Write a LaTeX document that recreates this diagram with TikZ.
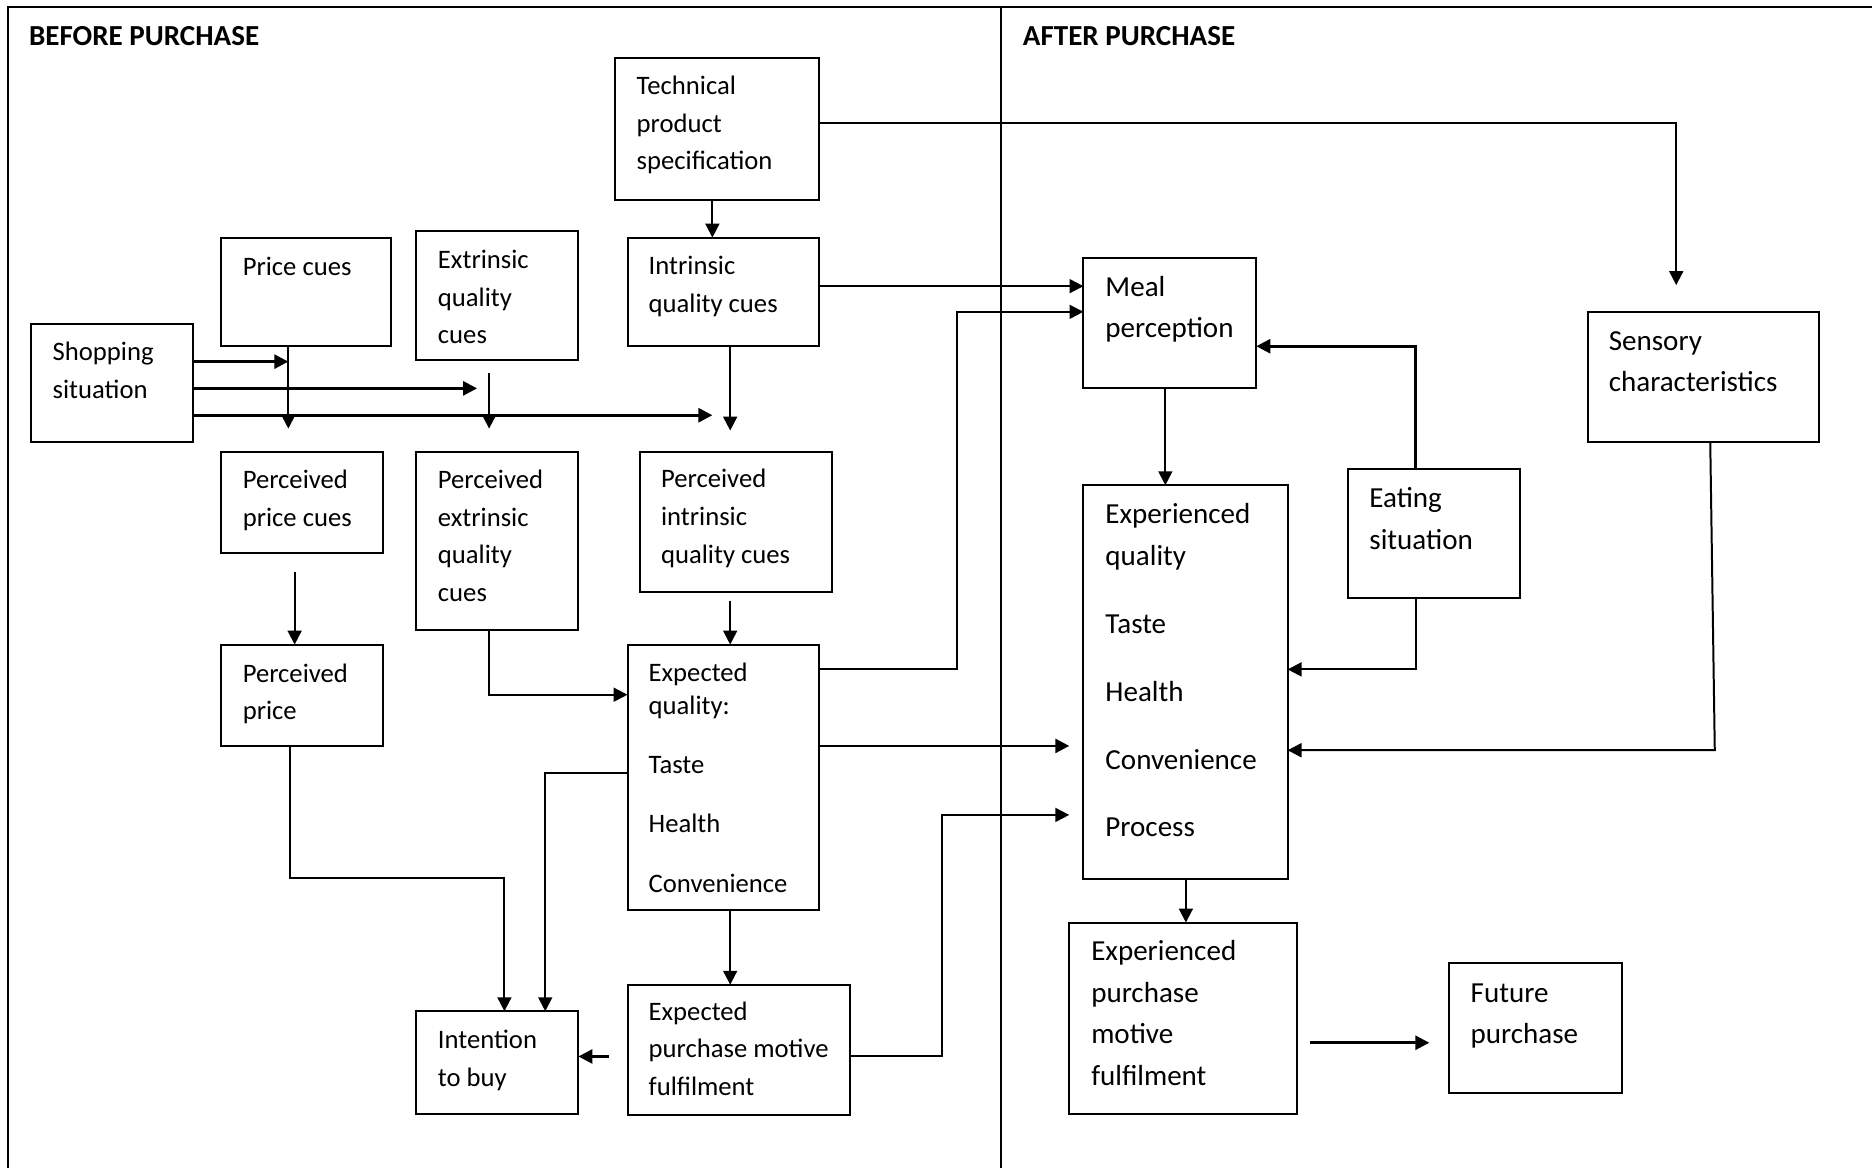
\documentclass[tikz,border=0pt]{standalone}
\usepackage{fontspec}
\setmainfont{Carlito}
\usetikzlibrary{arrows.meta,calc}
\newcommand\mybox[5]{\node[box, minimum width={(#4-#2)*0.6pt}, minimum height={(#5-#3)*0.6pt}] (#1) at (#2,#3) {};}
\tikzset{
  box/.style={draw, line width=1pt, inner sep=0pt, outer sep=0pt, anchor=north west},
  ltxt/.style={anchor=base west, inner sep=0pt, align=left, font=\fontsize{13.4}{19}\selectfont},
  rtxt/.style={anchor=base west, inner sep=0pt, align=left, font=\fontsize{14.6}{20.9}\selectfont},
  head/.style={anchor=base west, inner sep=0pt, font=\fontsize{14.6}{17}\selectfont\bfseries},
  arr/.style={line width=1pt, -{Triangle[length=7pt,width=7pt]}},
  tarr/.style={line width=1.4pt, -{Triangle[length=7pt,width=7pt]}},
  frame/.style={line width=1pt}
}
\begin{document}
\begin{tikzpicture}[x=0.6pt,y=-0.6pt]
\useasboundingbox (0,0) rectangle (1568,978);
% frame
\draw[frame] (6.4,978) -- (6.4,5.5) -- (1568,5.5);
\draw[frame] (838.6,5.5) -- (838.6,978);
\node[head] (hb) at (24,37.8) {BEFORE PURCHASE};
\node[head] (ha) at (856.5,37.8) {AFTER PURCHASE};
% boxes left (text nodes placed at the baseline of their last line)
\mybox{tech}{515.5}{48.7}{686.4}{167.6}
\node[ltxt] (tech-t) at (533,142.3) {Technical\\product\\specification};
\mybox{price}{185.4}{199}{327.5}{290}
\node[ltxt] (price-t) at (203,231) {Price cues};
\mybox{extr}{348.8}{193.9}{484.5}{301.3}
\node[ltxt] (extr-t) at (366.5,288) {Extrinsic\\quality\\cues};
\mybox{intr}{525.6}{199}{686.4}{290}
\node[ltxt] (intr-t) at (543,262) {Intrinsic\\quality cues};
\mybox{shop}{26.2}{271}{161.9}{370}
\node[ltxt] (shop-t) at (43.8,334) {Shopping\\situation};
\mybox{pprice}{185.4}{378.5}{320.5}{463}
\node[ltxt] (pprice-t) at (203,441) {Perceived\\price cues};
\mybox{pextr}{348.8}{378.5}{484.5}{527.7}
\node[ltxt] (pextr-t) at (366.5,504) {Perceived\\extrinsic\\quality\\cues};
\mybox{pintr}{535.8}{378.5}{696.6}{495.8}
\node[ltxt] (pintr-t) at (553.4,472) {Perceived\\intrinsic\\quality cues};
\mybox{pp}{185.4}{539.9}{320.5}{624.8}
\node[ltxt] (pp-t) at (203,603) {Perceived\\price};
\mybox{expq}{525.6}{539.9}{686.4}{762.1}
\node[ltxt, font=\fontsize{13.4}{16.9}\selectfont] (expq-t) at (543,747.7) {Expected\\quality:\\[12.4pt]Taste\\[12.9pt]Health\\[13.4pt]Convenience};
\mybox{intent}{348.8}{847}{484.5}{932.8}
\node[ltxt] (intent-t) at (366.5,910.1) {Intention\\to buy};
\mybox{epmf}{525.6}{824.8}{712}{933.8}
\node[ltxt] (epmf-t) at (543,917.7) {Expected\\purchase motive\\fulfilment};
% boxes right
\mybox{meal}{907.5}{215.7}{1052.3}{325.3}
\node[rtxt] (meal-t) at (925.6,283) {Meal\\perception};
\mybox{sens}{1330.1}{261.2}{1523.5}{370.2}
\node[rtxt] (sens-t) at (1347.2,328) {Sensory\\characteristics};
\mybox{eat}{1129}{392.6}{1273.4}{501.3}
\node[rtxt] (eat-t) at (1146.7,460) {Eating\\situation};
\mybox{exq}{907.5}{406.4}{1078.5}{736.4}
\node[rtxt] (exq-t) at (925.6,701) {Experienced\\quality\\[13.2pt]Taste\\[13.2pt]Health\\[13.2pt]Convenience\\[13.2pt]Process};
\mybox{epf}{895.6}{772.7}{1086.2}{932.8}
\node[rtxt] (epf-t) at (913.7,909) {Experienced\\purchase\\motive\\fulfilment};
\mybox{fut}{1213.4}{806.4}{1358.2}{915.6}
\node[rtxt] (fut-t) at (1231.5,874.3) {Future\\purchase};
% free-end coordinates
\coordinate (c-sens) at (1404,238.8);
\coordinate (c-s1) at (241.5,302.9);
\coordinate (c-s2) at (399.6,325.3);
\coordinate (c-s3) at (596.7,347.8);
\coordinate (c-pr) at (241.5,359);
\coordinate (c-ex0) at (409.7,312.5);
\coordinate (c-ex1) at (409.7,359);
\coordinate (c-in) at (611.6,360.6);
\coordinate (c-pp0) at (246.8,478.9);
\coordinate (c-pi0) at (611.6,503);
\coordinate (c-eq) at (895.6,624.8);
\coordinate (c-ep0) at (510,884.9);
\coordinate (c-pr2) at (895.6,682.6);
\coordinate (c-f0) at (1097.1,873.4);
\coordinate (c-f1) at (1197.2,873.4);
% connectors
\draw[arr] (tech.south -| 596.7,0) -- (intr.north -| 596.7,0);
\draw[arr] (tech.east |- 0,103.2) -- (1404,103.2) -- (c-sens);
\draw[arr] (intr.east |- 0,239.7) -- (meal.west |- 0,239.7);
\draw[arr] (expq.east |- 0,560.7) -- (801.3,560.7) -- (801.3,261.2) -- (meal.west |- 0,261.2);
\draw[tarr] (shop.east |- c-s1) -- (c-s1);
\draw[tarr] (shop.east |- c-s2) -- (c-s2);
\draw[tarr] (shop.east |- c-s3) -- (c-s3);
\draw[arr] (price.south -| c-pr) -- (c-pr);
\draw[arr] (c-ex0) -- (c-ex1);
\draw[arr] (intr.south -| c-in) -- (c-in);
\draw[arr] (c-pp0) -- (pp.north -| c-pp0);
\draw[arr] (c-pi0) -- (expq.north -| c-pi0);
\draw[arr] (pextr.south -| 409.7,0) -- (409.7,581.9) -- (expq.west |- 0,581.9);
\draw[tarr] (expq.east |- c-eq) -- (c-eq);
\draw[arr] (expq.west |- 0,647.6) -- (456.7,647.6) -- (intent.north -| 456.7,0);
\draw[arr] (pp.south -| 243,0) -- (243,735.7) -- (422.5,735.7) -- (intent.north -| 422.5,0);
\draw[arr] (expq.south -| 611.6,0) -- (epmf.north -| 611.6,0);
\draw[tarr] (c-ep0) -- (intent.east |- c-ep0);
\draw[arr] (epmf.east |- c-ep0) -- (789,884.9) -- (789,682.6) -- (c-pr2);
\draw[tarr] (eat.north -| 1185.7,0) -- (1185.7,290) -- (meal.east |- 0,290);
\draw[arr] (meal.south -| 976.1,0) -- (exq.north -| 976.1,0);
\draw[arr] (eat.south -| 1185.7,0) -- (1185.7,560.7) -- (exq.east |- 0,560.7);
\draw[arr] (sens.south -| 1432.5,0) -- (1436.3,628.4) -- (exq.east |- 0,628.4);
\draw[arr] (exq.south -| 993.3,0) -- (epf.north -| 993.3,0);
\draw[tarr] (c-f0) -- (c-f1);
\end{tikzpicture}
\end{document}
